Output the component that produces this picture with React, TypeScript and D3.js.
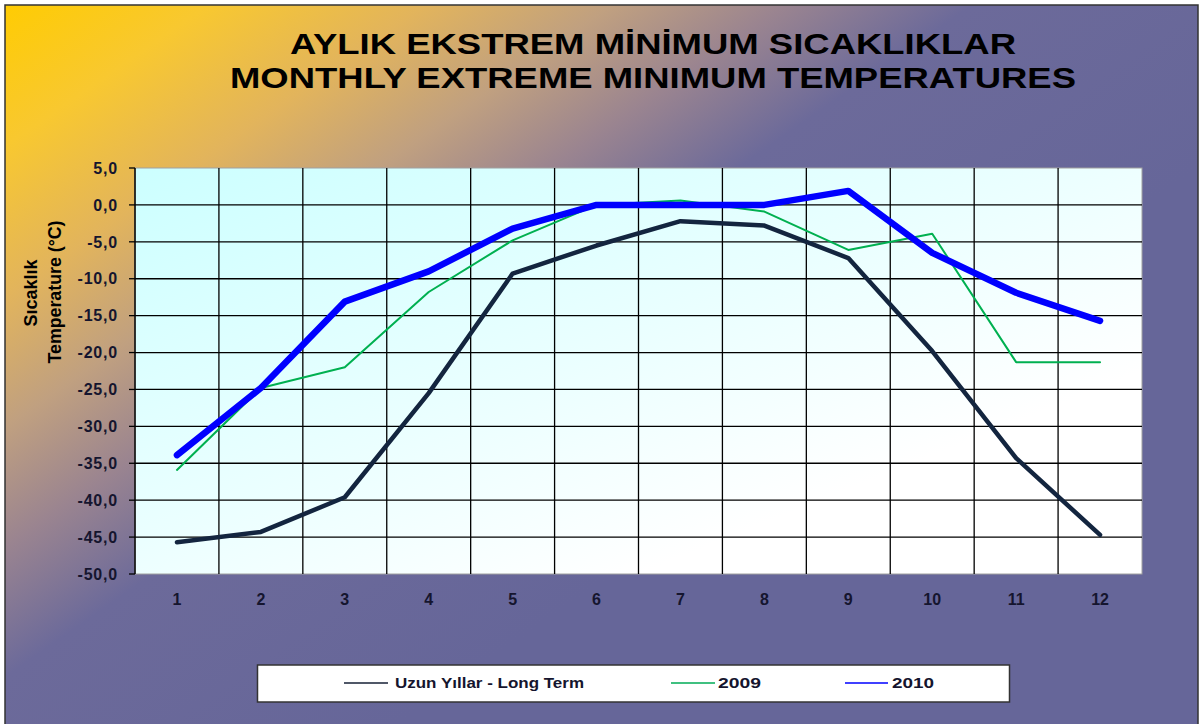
import React from "react";
import * as d3 from "d3";

const months = [1, 2, 3, 4, 5, 6, 7, 8, 9, 10, 11, 12];
const longTerm = [-45.7, -44.3, -39.6, -25.5, -9.3, -5.5, -2.2, -2.8, -7.2, -19.8, -34.3, -44.7];
const y2009 = [-35.9, -24.8, -22.0, -11.8, -4.8, 0.0, 0.6, -0.9, -6.1, -3.9, -21.3, -21.3];
const y2010 = [-33.9, -24.8, -13.1, -9.0, -3.2, 0.0, 0.0, 0.0, 1.9, -6.5, -11.9, -15.7];
const yTicks = [5, 0, -5, -10, -15, -20, -25, -30, -35, -40, -45, -50];
const titleLines = ["AYLIK EKSTREM MİNİMUM SICAKLIKLAR", "MONTHLY EXTREME MINIMUM TEMPERATURES"];
const seriesNames = ["Uzun Yıllar - Long Term", "2009", "2010"];
const yTitleLines = ["Sıcaklık", "Temperature (°C)"];

const W = 1202;
const H = 724;
const plot = { left: 135, right: 1142, top: 168, bottom: 574 };

const series = [
  { name: seriesNames[0], values: longTerm, color: "#13253f", width: 4.5, legendColor: "#505868" },
  { name: seriesNames[1], values: y2009, color: "#00b050", width: 2, legendColor: "#40c080" },
  { name: seriesNames[2], values: y2010, color: "#0000ff", width: 6.5, legendColor: "#4040ff" },
];

const sans = "'Liberation Sans', Arial, sans-serif";

export default function App() {
  const x = d3.scaleBand<number>().domain(months).range([plot.left, plot.right]).padding(0);
  const y = d3.scaleLinear().domain([-50, 5]).range([plot.bottom, plot.top]);
  const cx = (m: number) => (x(m) as number) + x.bandwidth() / 2;
  const line = d3
    .line<number>()
    .x((_, i) => cx(months[i]))
    .y((v) => y(v));

  const boundaries = months.map((m) => x(m) as number).concat([plot.right]);

  const legendItems = [
    { x1: 344, x2: 388, tx: 395, len: 189 },
    { x1: 671, x2: 715, tx: 718, len: 43 },
    { x1: 845, x2: 888, tx: 892, len: 42 },
  ];

  return (
    <svg
      width={W}
      height={H}
      style={{ position: "absolute", left: 0, top: 0, display: "block" }}
      xmlns="http://www.w3.org/2000/svg"
    >
      <defs>
        <linearGradient id="bg" gradientUnits="userSpaceOnUse" x1="0" y1="0" x2="469" y2="675">
          <stop offset="0" stopColor="#ffcc00" />
          <stop offset="0.15" stopColor="#f8c830" />
          <stop offset="0.3" stopColor="#e2b45c" />
          <stop offset="0.43" stopColor="#c0a080" />
          <stop offset="0.55" stopColor="#9a8490" />
          <stop offset="0.68" stopColor="#6c6a9a" />
          <stop offset="1" stopColor="#666699" />
        </linearGradient>
        <linearGradient id="plotbg" x1="0" y1="0" x2="1" y2="1">
          <stop offset="0" stopColor="#ccffff" />
          <stop offset="0.45" stopColor="#eaffff" />
          <stop offset="0.75" stopColor="#ffffff" />
        </linearGradient>
      </defs>
      <rect x={0} y={0} width={W} height={H} fill="#ffffff" />
      <rect x={5} y={5} width={1193} height={740} fill="url(#bg)" stroke="#333333" strokeWidth={1.5} />

      {titleLines.map((t, i) => (
        <text
          key={"title" + i}
          x={653}
          y={i === 0 ? 54 : 88}
          textAnchor="middle"
          fontFamily={sans}
          fontWeight="bold"
          fontSize={30}
          fill="#000000"
          textLength={i === 0 ? 726 : 846}
          lengthAdjust="spacingAndGlyphs"
        >
          {t}
        </text>
      ))}

      <rect
        x={plot.left}
        y={plot.top}
        width={plot.right - plot.left}
        height={plot.bottom - plot.top}
        fill="url(#plotbg)"
        stroke="#a0a0a0"
        strokeWidth={1}
      />
      {yTicks.slice(1, -1).map((t) => (
        <line
          key={"h" + t}
          x1={plot.left}
          x2={plot.right}
          y1={y(t)}
          y2={y(t)}
          stroke="#000000"
          strokeWidth={1.3}
        />
      ))}
      {boundaries.slice(1, -1).map((b, i) => (
        <line key={"v" + i} x1={b} x2={b} y1={plot.top} y2={plot.bottom} stroke="#000000" strokeWidth={1.3} />
      ))}
      <line x1={plot.left} x2={plot.left} y1={plot.top} y2={plot.bottom} stroke="#000000" strokeWidth={1.5} />
      {yTicks.map((t) => (
        <g key={"t" + t}>
          <line x1={plot.left - 6} x2={plot.left} y1={y(t)} y2={y(t)} stroke="#000000" strokeWidth={1.3} />
          <text
            x={118}
            y={y(t)}
            dy="0.36em"
            textAnchor="end"
            fontFamily={sans}
            fontWeight="bold"
            fontSize={16}
            letterSpacing={0.8}
            fill="#15152e"
          >
            {d3.format(".1f")(t).replace(".", ",").replace("−", "-")}
          </text>
        </g>
      ))}
      {months.map((m) => (
        <text
          key={"x" + m}
          x={cx(m)}
          y={605}
          textAnchor="middle"
          fontFamily={sans}
          fontWeight="bold"
          fontSize={16}
          fill="#15152e"
        >
          {m}
        </text>
      ))}
      <text
        transform="translate(37,293) rotate(-90)"
        textAnchor="middle"
        fontFamily={sans}
        fontWeight="bold"
        fontSize={18}
        textLength={67}
        lengthAdjust="spacingAndGlyphs"
        fill="#000000"
      >
        {yTitleLines[0]}
      </text>
      <text
        transform="translate(61,292) rotate(-90)"
        textAnchor="middle"
        fontFamily={sans}
        fontWeight="bold"
        fontSize={18}
        textLength={143}
        lengthAdjust="spacingAndGlyphs"
        fill="#000000"
      >
        {yTitleLines[1]}
      </text>

      {series.map((s) => (
        <path
          key={s.name}
          d={line(s.values) || ""}
          fill="none"
          stroke={s.color}
          strokeWidth={s.width}
          strokeLinejoin="round"
          strokeLinecap="round"
        />
      ))}

      <rect x={257.5} y={665} width={752} height={37} fill="#ffffff" stroke="#333333" strokeWidth={1.5} />
      {series.map((s, i) => (
        <g key={"lg" + i}>
          <line
            x1={legendItems[i].x1}
            x2={legendItems[i].x2}
            y1={683}
            y2={683}
            stroke={s.legendColor}
            strokeWidth={2}
          />
          <text
            x={legendItems[i].tx}
            y={683}
            dy="0.36em"
            fontFamily={sans}
            fontWeight="bold"
            fontSize={15}
            textLength={legendItems[i].len}
            lengthAdjust="spacingAndGlyphs"
            fill="#15152e"
          >
            {s.name}
          </text>
        </g>
      ))}
    </svg>
  );
}
